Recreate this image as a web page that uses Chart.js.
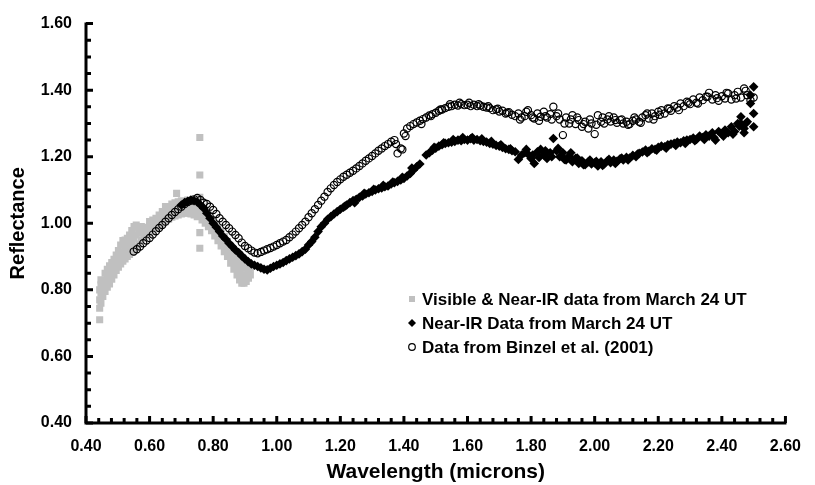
<!DOCTYPE html>
<html><head><meta charset="utf-8">
<script src="https://cdn.jsdelivr.net/npm/chart.js@4.4.0/dist/chart.umd.min.js"></script>
<style>html,body{margin:0;padding:0;background:#fff;}canvas{display:block;}</style>
</head><body>
<canvas id="c" width="815" height="485"></canvas>
<script>
const xTickValues = [0.4,0.6,0.8,1.0,1.2,1.4,1.6,1.8,2.0,2.2,2.4,2.6];
const xTickLabels = ['0.40','0.60','0.80','1.00','1.20','1.40','1.60','1.80','2.00','2.20','2.40','2.60'];
const yTickValues = [0.4,0.6,0.8,1.0,1.2,1.4,1.6];
const yTickLabels = ['0.40','0.60','0.80','1.00','1.20','1.40','1.60'];
const seriesLabels = ['Visible & Near-IR data from March 24 UT','Near-IR Data from March 24 UT','Data from Binzel et al. (2001)'];

// Visible & Near-IR (gray squares)
const visWave = [
0.443,0.443,0.443,0.443, 0.447,0.447,0.447,0.447, 0.453,0.453,0.453, 0.460,0.460,0.460,
0.467,0.467,0.467, 0.474,0.474,0.474, 0.481,0.481,0.481, 0.488,0.488,0.488, 0.495,0.495,0.495,
0.502,0.502,0.502, 0.509,0.509,0.509, 0.516,0.516,0.516, 0.523,0.523,0.523, 0.530,0.530,0.530,
0.537,0.537,0.537, 0.544,0.544,0.544, 0.551,0.551,0.551, 0.558,0.558,0.558, 0.566,0.566,0.566,
0.574,0.574,0.574, 0.582,0.582,0.582, 0.590,0.590,0.590, 0.600,0.600,0.600, 0.610,0.610,0.610,
0.620,0.620,0.620, 0.630,0.630,0.630, 0.640,0.640,0.640, 0.650,0.650,0.650, 0.660,0.660,0.660,
0.670,0.670,0.670, 0.680,0.680,0.680, 0.685, 0.690,0.690,0.690, 0.700,0.700,0.700,
0.710,0.710,0.710, 0.720,0.720,0.720, 0.730,0.730,0.730, 0.740,0.740,0.740, 0.750,0.750,0.750,
0.758,0.758,0.758,0.758,0.758, 0.765,0.765,0.765, 0.775,0.775,0.775, 0.785,0.785,0.785,
0.795,0.795,0.795, 0.805,0.805,0.805, 0.815,0.815,0.815, 0.825,0.825,0.825, 0.835,0.835,0.835,
0.845,0.845,0.845, 0.855,0.855,0.855, 0.865,0.865,0.865, 0.875,0.875,0.875, 0.883,0.883,0.883,
0.890,0.890,0.890, 0.897,0.897,0.897, 0.904,0.904,0.904, 0.911,0.911,0.911, 0.917,0.917
];
const visRefl = [
0.710,0.745,0.770,0.800, 0.760,0.790,0.815,0.830, 0.780,0.805,0.825, 0.795,0.825,0.850,
0.808,0.840,0.862, 0.818,0.850,0.872, 0.832,0.862,0.882, 0.845,0.872,0.892, 0.858,0.885,0.905,
0.868,0.895,0.918, 0.878,0.905,0.935, 0.886,0.912,0.948, 0.893,0.922,0.950, 0.900,0.930,0.955,
0.906,0.938,0.965, 0.912,0.945,0.978, 0.920,0.955,0.990, 0.928,0.965,0.995, 0.938,0.970,0.985,
0.948,0.975,0.990, 0.956,0.982,0.975, 0.962,0.988,0.972, 0.970,0.992,1.005, 0.976,0.998,1.010,
0.984,1.002,1.015, 0.990,1.010,1.025, 0.998,1.018,1.035, 1.005,1.025,1.050, 1.012,1.030,1.045,
1.018,1.035,1.058, 1.022,1.040,1.062, 1.090, 1.025,1.045,1.065, 1.028,1.048,1.068,
1.030,1.050,1.065, 1.030,1.048,1.070, 1.028,1.045,1.065, 1.025,1.040,1.060, 1.020,1.035,1.055,
0.925,0.972,1.078,1.145,1.258, 1.010,1.030,1.050, 1.000,1.020,1.040, 0.990,1.008,1.025,
0.978,0.995,1.012, 0.962,0.982,1.000, 0.948,0.968,0.988, 0.932,0.952,0.975, 0.915,0.935,0.960,
0.900,0.918,0.945, 0.880,0.900,0.930, 0.862,0.885,0.915, 0.845,0.870,0.900, 0.830,0.858,0.888,
0.820,0.845,0.875, 0.820,0.840,0.865, 0.825,0.845,0.870, 0.835,0.855,0.875, 0.845,0.865
];

// Near-IR Data from March 24 UT (black diamonds)
const nirWave = [
0.70,0.71,0.72,0.73,0.74,0.75,0.76,0.77,0.78,0.79,0.80,0.81,0.82,0.83,0.84,0.85,0.86,0.87,0.88,0.89,
0.90,0.91,0.92,0.93,0.94,0.95,0.96,0.97,0.98,0.99,1.00,1.01,1.02,1.03,1.04,1.05,1.06,1.07,1.08,1.09,
1.10,1.11,1.12,1.13,1.14,1.15,1.16,1.17,1.18,1.19,1.20,1.21,1.22,1.23,1.24,1.25,1.26,1.27,1.28,1.29,
1.30,1.31,1.32,1.33,1.34,1.35,1.36,1.37,1.38,1.39,1.40,1.41,1.42,1.43,1.44,1.45,1.47,1.48,1.49,
1.50,1.51,1.52,1.53,1.54,1.55,1.56,1.57,1.58,1.59,1.60,1.61,1.62,1.63,1.64,1.65,1.66,1.67,1.68,1.69,
1.70,1.71,1.72,1.73,1.74,1.75,1.76,1.77,1.78,1.79,1.80,1.81,1.82,1.83,1.84,1.85,1.86,1.87,1.88,1.89,
1.90,1.91,1.92,1.93,1.94,1.95,1.96,1.97,1.98,1.99,2.00,2.01,2.02,2.03,2.04,2.05,2.06,2.07,2.08,2.09,
2.10,2.11,2.12,2.13,2.14,2.15,2.16,2.17,2.18,2.19,2.20,2.21,2.22,2.23,2.24,2.25,2.26,2.27,2.28,2.29,
2.30,2.31,2.32,2.33,2.34,2.35,2.36,2.37,2.38,2.39,2.40,2.41,2.42,2.43,2.44,2.45,2.46,2.47,2.48,2.49,
2.50,2.50,2.49,2.47,2.46,2.50,
1.785,1.805,1.825,1.845,1.865,1.885,1.905,1.925,1.945,1.965,1.985,2.005,2.025,2.045,2.065,2.085,
2.105,2.135,2.165,2.195,2.225,2.255,2.285,2.315,2.345,2.375,2.405,2.435,2.455,2.475,
1.215,1.245,1.275,1.305,1.335,1.365,1.395,1.425,1.495,1.525,1.555,1.585,1.615,1.645,1.675,1.705,1.735
];
const nirRefl = [
1.055,1.062,1.066,1.070,1.068,1.064,1.055,1.045,1.030,1.015,1.000,0.988,0.975,0.962,0.952,0.940,0.930,0.920,0.912,0.902,
0.893,0.885,0.878,0.874,0.870,0.866,0.862,0.860,0.865,0.870,0.874,0.878,0.882,0.888,0.893,0.898,0.903,0.908,0.915,0.922,
0.935,0.945,0.958,0.975,0.990,1.000,1.012,1.020,1.028,1.035,1.042,1.048,1.055,1.062,1.068,1.072,1.078,1.082,1.088,1.092,
1.096,1.100,1.104,1.106,1.110,1.112,1.118,1.122,1.126,1.130,1.135,1.142,1.150,1.160,1.170,1.178,1.205,1.212,1.220,
1.226,1.232,1.236,1.240,1.242,1.244,1.246,1.250,1.248,1.252,1.250,1.254,1.250,1.252,1.248,1.246,1.244,1.240,1.238,1.234,
1.232,1.228,1.224,1.222,1.218,1.215,1.192,1.205,1.212,1.208,1.195,1.180,1.215,1.222,1.205,1.195,1.212,1.255,1.218,1.200,
1.212,1.190,1.202,1.185,1.195,1.180,1.188,1.176,1.185,1.178,1.182,1.172,1.185,1.178,1.188,1.182,1.190,1.186,1.194,1.190,
1.198,1.196,1.204,1.200,1.210,1.214,1.220,1.216,1.224,1.222,1.228,1.232,1.230,1.236,1.238,1.240,1.244,1.242,1.248,1.250,
1.252,1.256,1.252,1.262,1.258,1.266,1.262,1.272,1.250,1.276,1.268,1.280,1.272,1.290,1.276,1.300,1.320,1.285,1.305,1.360,
1.290,1.410,1.385,1.272,1.300,1.330,
1.222,1.205,1.198,1.218,1.200,1.225,1.192,1.212,1.196,1.176,1.190,1.186,1.174,1.192,1.180,1.196,
1.190,1.208,1.212,1.220,1.226,1.234,1.240,1.248,1.252,1.258,1.262,1.268,1.292,1.300,
1.052,1.062,1.090,1.102,1.114,1.124,1.138,1.166,1.228,1.242,1.252,1.258,1.258,1.254,1.246,1.236,1.224
];

// Data from Binzel et al. (2001) (open circles)
const binWave = [
0.55,0.56,0.57,0.58,0.59,0.60,0.61,0.62,0.63,0.64,0.65,0.66,0.67,0.68,0.69,0.70,0.71,0.72,0.73,0.74,
0.75,0.76,0.77,0.78,0.79,0.80,0.81,0.82,0.83,0.84,0.85,0.86,0.87,0.88,0.89,0.90,0.91,0.92,0.93,0.94,
0.95,0.96,0.97,0.98,0.99,1.00,1.01,1.02,1.03,1.04,1.05,1.06,1.07,1.08,1.09,1.10,1.11,1.12,1.13,1.14,
1.15,1.16,1.17,1.18,1.19,1.20,1.21,1.22,1.23,1.24,1.25,1.26,1.27,1.28,1.29,1.30,1.31,1.32,1.33,1.34,
1.35,1.36,1.37,1.38,1.39,1.40,1.41,1.42,1.43,1.44,1.45,1.46,1.47,1.48,1.49,1.50,1.51,1.52,1.53,1.54,
1.55,1.56,1.57,1.58,1.59,1.60,1.61,1.62,1.63,1.64,1.65,1.66,1.67,1.68,1.69,1.70,1.71,1.72,1.73,1.74,
1.75,1.76,1.77,1.78,1.79,1.80,1.81,1.82,1.83,1.84,1.85,1.86,1.87,1.88,1.89,1.90,1.91,1.92,1.93,1.94,
1.95,1.96,1.97,1.98,1.99,2.00,2.01,2.02,2.03,2.04,2.05,2.06,2.07,2.08,2.09,2.10,2.11,2.12,2.13,2.14,
2.15,2.16,2.17,2.18,2.19,2.20,2.21,2.22,2.23,2.24,2.25,2.26,2.27,2.28,2.29,2.30,2.31,2.32,2.33,2.34,
2.35,2.36,2.37,2.38,2.39,2.40,2.41,2.42,2.43,2.44,2.45,2.46,2.47,2.48,2.49,2.50,
1.765,1.785,1.805,1.825,1.845,1.865,1.885,1.905,1.925,1.945,1.965,1.985,2.005,2.025,2.045,2.065,
2.085,2.105,2.125,2.145,2.165,2.185,2.205,2.235,2.265,2.295,2.325,2.355,2.385,2.415,2.445,2.475,
1.375,1.395,1.405,1.455,1.485,1.515,1.545,1.575,1.605,1.635,1.665,1.695,1.725
];
const binRefl = [
0.915,0.922,0.930,0.940,0.948,0.956,0.966,0.976,0.986,0.995,1.005,1.015,1.025,1.034,1.042,1.050,1.058,1.064,1.068,1.072,
1.076,1.070,1.062,1.058,1.050,1.040,1.028,1.015,1.005,0.995,0.985,0.975,0.965,0.955,0.942,0.932,0.925,0.918,0.912,0.910,
0.914,0.918,0.922,0.926,0.930,0.935,0.940,0.945,0.950,0.958,0.966,0.975,0.985,0.995,1.005,1.018,1.030,1.042,1.055,1.068,
1.080,1.094,1.105,1.115,1.124,1.132,1.140,1.146,1.152,1.158,1.165,1.172,1.180,1.188,1.195,1.202,1.210,1.218,1.225,1.232,
1.238,1.245,1.250,1.210,1.225,1.270,1.285,1.292,1.298,1.303,1.308,1.313,1.318,1.324,1.328,1.332,1.338,1.342,1.346,1.350,
1.352,1.356,1.354,1.358,1.355,1.356,1.352,1.356,1.352,1.354,1.350,1.348,1.346,1.340,1.342,1.336,1.338,1.330,1.334,1.326,
1.322,1.330,1.318,1.322,1.340,1.325,1.315,1.330,1.320,1.335,1.318,1.328,1.350,1.322,1.312,1.265,1.318,1.300,1.325,1.298,
1.310,1.290,1.305,1.285,1.300,1.268,1.325,1.305,1.300,1.312,1.306,1.318,1.302,1.310,1.300,1.305,1.298,1.308,1.312,1.305,
1.318,1.325,1.315,1.330,1.322,1.335,1.340,1.330,1.345,1.338,1.352,1.348,1.360,1.352,1.365,1.358,1.372,1.362,1.378,1.370,
1.380,1.392,1.372,1.385,1.368,1.382,1.375,1.390,1.372,1.385,1.395,1.378,1.405,1.385,1.370,1.378,
1.312,1.335,1.318,1.308,1.322,1.312,1.330,1.300,1.312,1.318,1.298,1.312,1.296,1.318,1.322,1.310,
1.312,1.296,1.318,1.302,1.330,1.312,1.326,1.344,1.340,1.362,1.360,1.380,1.376,1.392,1.375,1.398,
1.238,1.222,1.262,1.298,1.322,1.342,1.358,1.362,1.362,1.358,1.352,1.344,1.332
];

const toPts = (xs, ys) => xs.map((v, i) => ({x: v, y: ys[i]}));
const FONT = '"Liberation Sans", Arial, sans-serif';

const axesPlugin = {
  id: 'axesPlugin',
  afterDatasetsDraw(chart) {
    const {ctx, chartArea: a, scales: {x, y}} = chart;
    ctx.save();
    ctx.strokeStyle = '#000';
    ctx.lineWidth = 3;
    ctx.lineCap = 'butt';
    ctx.beginPath();
    ctx.moveTo(a.left, a.top - 1);
    ctx.lineTo(a.left, a.bottom);
    ctx.lineTo(a.right + 1, a.bottom);
    ctx.stroke();
    ctx.beginPath();
    for (let i = 0; i <= 24; i++) {
      const py = y.getPixelForValue(0.4 + i * 0.05);
      const len = (i % 4 === 0) ? 7 : 5;
      ctx.moveTo(a.left, py);
      ctx.lineTo(a.left + len, py);
    }
    for (let i = 0; i <= 55; i++) {
      const px = x.getPixelForValue(0.4 + i * 0.04);
      const len = (i % 5 === 0) ? 7 : 5;
      ctx.moveTo(px, a.bottom);
      ctx.lineTo(px, a.bottom - len);
    }
    ctx.stroke();
    ctx.restore();
  }
};

const legendPlugin = {
  id: 'legendPlugin',
  afterDraw(chart) {
    const ctx = chart.ctx;
    const rows = [299, 323, 347];
    const mx = 412, tx = 422;
    ctx.save();
    ctx.font = 'bold 17px ' + FONT;
    ctx.textBaseline = 'middle';
    ctx.textAlign = 'left';
    chart.data.datasets.forEach((ds, i) => {
      const yy = rows[i];
      if (i === 0) {
        ctx.fillStyle = '#c0c0c0';
        ctx.fillRect(mx - 3, yy - 3, 6, 6);
      } else if (i === 1) {
        ctx.fillStyle = '#000';
        ctx.beginPath();
        ctx.moveTo(mx, yy - 4); ctx.lineTo(mx + 4, yy); ctx.lineTo(mx, yy + 4); ctx.lineTo(mx - 4, yy);
        ctx.closePath(); ctx.fill();
      } else {
        ctx.strokeStyle = '#000'; ctx.lineWidth = 1.2;
        ctx.beginPath(); ctx.arc(mx, yy, 3.3, 0, Math.PI * 2); ctx.stroke();
      }
      ctx.fillStyle = '#000';
      ctx.fillText(ds.label, tx, yy + 1);
    });
    ctx.restore();
  }
};

new Chart(document.getElementById('c'), {
  type: 'scatter',
  data: {
    datasets: [
      { label: seriesLabels[0], data: toPts(visWave, visRefl), pointStyle: 'rect', pointRadius: 5,
        backgroundColor: '#c0c0c0', borderColor: '#c0c0c0', borderWidth: 0, order: 3 },
      { label: seriesLabels[1], data: toPts(nirWave, nirRefl), pointStyle: 'rectRot', pointRadius: 4.8,
        backgroundColor: '#000', borderColor: '#000', borderWidth: 0, order: 2 },
      { label: seriesLabels[2], data: toPts(binWave, binRefl), pointStyle: 'circle', pointRadius: 3.6,
        backgroundColor: 'rgba(0,0,0,0)', borderColor: '#000', borderWidth: 1.2, order: 1 }
    ]
  },
  options: {
    responsive: false,
    animation: false,
    devicePixelRatio: 1,
    layout: { padding: { top: 23, right: 16, left: 0, bottom: 0 } },
    plugins: { legend: { display: false }, tooltip: { enabled: false } },
    scales: {
      x: {
        type: 'linear', min: 0.4, max: 2.6,
        afterBuildTicks: (s) => { s.ticks = xTickValues.map(v => ({value: v})); },
        afterFit: (s) => { s.height = 62; },
        grid: { display: false, drawTicks: false },
        border: { display: false },
        ticks: { padding: 14, color: '#000', font: { family: FONT, size: 16, weight: 'bold' },
                 maxRotation: 0, autoSkip: false, callback: (v, i) => xTickLabels[i] },
        title: { display: true, text: 'Wavelength (microns)', color: '#000',
                 font: { family: FONT, size: 21, weight: 'bold' }, padding: { top: 0, bottom: 0 } }
      },
      y: {
        type: 'linear', min: 0.4, max: 1.6,
        afterBuildTicks: (s) => { s.ticks = yTickValues.map(v => ({value: v})); },
        afterFit: (s) => { s.width = 86; },
        grid: { display: false, drawTicks: false },
        border: { display: false },
        ticks: { padding: 14, color: '#000', font: { family: FONT, size: 16, weight: 'bold' },
                 autoSkip: false, callback: (v, i) => yTickLabels[i] },
        title: { display: true, text: 'Reflectance', color: '#000',
                 font: { family: FONT, size: 20, weight: 'bold' }, padding: { top: 6, bottom: 0 } }
      }
    }
  },
  plugins: [axesPlugin, legendPlugin]
});
</script>
</body></html>
